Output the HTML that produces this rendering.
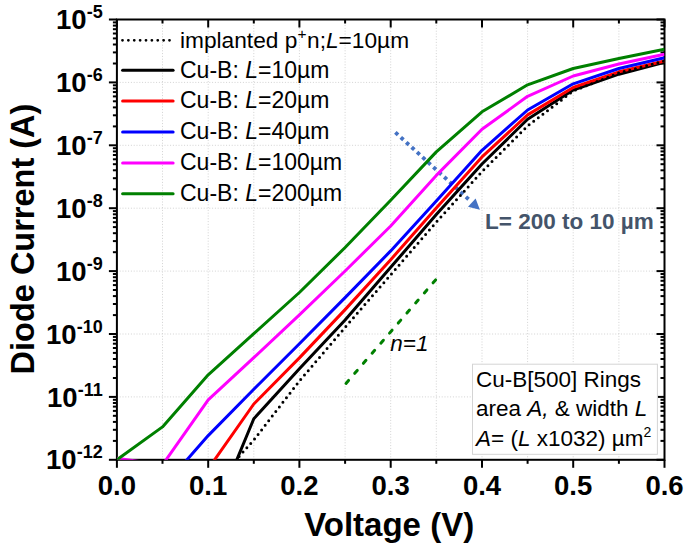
<!DOCTYPE html>
<html><head><meta charset="utf-8"><style>
html,body{margin:0;padding:0;background:#fff;width:685px;height:549px;overflow:hidden}
svg{display:block}
text{font-family:"Liberation Sans", sans-serif}
</style></head><body>
<svg width="685" height="549" viewBox="0 0 685 549">
<defs><clipPath id="pc"><rect x="116.9" y="19.5" width="547.6" height="440.3"/></clipPath></defs>
<rect width="685" height="549" fill="#fff"/>

<g stroke="#d2d2d2" stroke-width="1" stroke-dasharray="1 1.8" fill="none"><line x1="162.5" y1="19.5" x2="162.5" y2="459.8"/><line x1="208.2" y1="19.5" x2="208.2" y2="459.8"/><line x1="253.8" y1="19.5" x2="253.8" y2="459.8"/><line x1="299.4" y1="19.5" x2="299.4" y2="459.8"/><line x1="345.1" y1="19.5" x2="345.1" y2="459.8"/><line x1="390.7" y1="19.5" x2="390.7" y2="459.8"/><line x1="436.3" y1="19.5" x2="436.3" y2="459.8"/><line x1="482.0" y1="19.5" x2="482.0" y2="459.8"/><line x1="527.6" y1="19.5" x2="527.6" y2="459.8"/><line x1="573.2" y1="19.5" x2="573.2" y2="459.8"/><line x1="618.9" y1="19.5" x2="618.9" y2="459.8"/><line x1="116.9" y1="82.4" x2="664.5" y2="82.4"/><line x1="116.9" y1="145.3" x2="664.5" y2="145.3"/><line x1="116.9" y1="208.2" x2="664.5" y2="208.2"/><line x1="116.9" y1="271.1" x2="664.5" y2="271.1"/><line x1="116.9" y1="334.0" x2="664.5" y2="334.0"/><line x1="116.9" y1="396.9" x2="664.5" y2="396.9"/></g>
<line x1="346" y1="383.4" x2="437" y2="278.3" stroke="#008000" stroke-width="3" stroke-dasharray="3.9 9.4" stroke-linecap="round"/>
<text x="390.3" y="351.4" font-size="22.5" font-style="italic">n=1</text>
<line x1="395.37" y1="132.39" x2="468.6" y2="199.3" stroke="#4472c4" stroke-width="3.8" stroke-dasharray="3.6 3.75"/>
<polygon points="479.9,209.8 468.0,206.8 475.6,198.4" fill="#4472c4"/>
<text x="485" y="229.2" font-size="22.5" font-weight="bold" fill="#44546a">L= 200 to 10 µm</text>
<g stroke="#000" stroke-width="2"><rect x="116.9" y="19.5" width="547.6" height="440.3" fill="none"/><line x1="116.9" y1="459.8" x2="116.9" y2="467.8"/><line x1="116.9" y1="19.5" x2="116.9" y2="27.5"/><line x1="162.5" y1="459.8" x2="162.5" y2="463.8"/><line x1="162.5" y1="19.5" x2="162.5" y2="23.5"/><line x1="208.2" y1="459.8" x2="208.2" y2="467.8"/><line x1="208.2" y1="19.5" x2="208.2" y2="27.5"/><line x1="253.8" y1="459.8" x2="253.8" y2="463.8"/><line x1="253.8" y1="19.5" x2="253.8" y2="23.5"/><line x1="299.4" y1="459.8" x2="299.4" y2="467.8"/><line x1="299.4" y1="19.5" x2="299.4" y2="27.5"/><line x1="345.1" y1="459.8" x2="345.1" y2="463.8"/><line x1="345.1" y1="19.5" x2="345.1" y2="23.5"/><line x1="390.7" y1="459.8" x2="390.7" y2="467.8"/><line x1="390.7" y1="19.5" x2="390.7" y2="27.5"/><line x1="436.3" y1="459.8" x2="436.3" y2="463.8"/><line x1="436.3" y1="19.5" x2="436.3" y2="23.5"/><line x1="482.0" y1="459.8" x2="482.0" y2="467.8"/><line x1="482.0" y1="19.5" x2="482.0" y2="27.5"/><line x1="527.6" y1="459.8" x2="527.6" y2="463.8"/><line x1="527.6" y1="19.5" x2="527.6" y2="23.5"/><line x1="573.2" y1="459.8" x2="573.2" y2="467.8"/><line x1="573.2" y1="19.5" x2="573.2" y2="27.5"/><line x1="618.9" y1="459.8" x2="618.9" y2="463.8"/><line x1="618.9" y1="19.5" x2="618.9" y2="23.5"/><line x1="664.5" y1="459.8" x2="664.5" y2="467.8"/><line x1="664.5" y1="19.5" x2="664.5" y2="27.5"/><line x1="116.9" y1="19.5" x2="108.9" y2="19.5"/><line x1="664.5" y1="19.5" x2="656.5" y2="19.5"/><line x1="116.9" y1="63.5" x2="112.9" y2="63.5"/><line x1="664.5" y1="63.5" x2="660.5" y2="63.5"/><line x1="116.9" y1="52.4" x2="112.9" y2="52.4"/><line x1="664.5" y1="52.4" x2="660.5" y2="52.4"/><line x1="116.9" y1="44.5" x2="112.9" y2="44.5"/><line x1="664.5" y1="44.5" x2="660.5" y2="44.5"/><line x1="116.9" y1="38.4" x2="112.9" y2="38.4"/><line x1="664.5" y1="38.4" x2="660.5" y2="38.4"/><line x1="116.9" y1="33.5" x2="112.9" y2="33.5"/><line x1="664.5" y1="33.5" x2="660.5" y2="33.5"/><line x1="116.9" y1="29.2" x2="112.9" y2="29.2"/><line x1="664.5" y1="29.2" x2="660.5" y2="29.2"/><line x1="116.9" y1="25.6" x2="112.9" y2="25.6"/><line x1="664.5" y1="25.6" x2="660.5" y2="25.6"/><line x1="116.9" y1="22.4" x2="112.9" y2="22.4"/><line x1="664.5" y1="22.4" x2="660.5" y2="22.4"/><line x1="116.9" y1="82.4" x2="108.9" y2="82.4"/><line x1="664.5" y1="82.4" x2="656.5" y2="82.4"/><line x1="116.9" y1="126.4" x2="112.9" y2="126.4"/><line x1="664.5" y1="126.4" x2="660.5" y2="126.4"/><line x1="116.9" y1="115.3" x2="112.9" y2="115.3"/><line x1="664.5" y1="115.3" x2="660.5" y2="115.3"/><line x1="116.9" y1="107.4" x2="112.9" y2="107.4"/><line x1="664.5" y1="107.4" x2="660.5" y2="107.4"/><line x1="116.9" y1="101.3" x2="112.9" y2="101.3"/><line x1="664.5" y1="101.3" x2="660.5" y2="101.3"/><line x1="116.9" y1="96.4" x2="112.9" y2="96.4"/><line x1="664.5" y1="96.4" x2="660.5" y2="96.4"/><line x1="116.9" y1="92.1" x2="112.9" y2="92.1"/><line x1="664.5" y1="92.1" x2="660.5" y2="92.1"/><line x1="116.9" y1="88.5" x2="112.9" y2="88.5"/><line x1="664.5" y1="88.5" x2="660.5" y2="88.5"/><line x1="116.9" y1="85.3" x2="112.9" y2="85.3"/><line x1="664.5" y1="85.3" x2="660.5" y2="85.3"/><line x1="116.9" y1="145.3" x2="108.9" y2="145.3"/><line x1="664.5" y1="145.3" x2="656.5" y2="145.3"/><line x1="116.9" y1="189.3" x2="112.9" y2="189.3"/><line x1="664.5" y1="189.3" x2="660.5" y2="189.3"/><line x1="116.9" y1="178.2" x2="112.9" y2="178.2"/><line x1="664.5" y1="178.2" x2="660.5" y2="178.2"/><line x1="116.9" y1="170.3" x2="112.9" y2="170.3"/><line x1="664.5" y1="170.3" x2="660.5" y2="170.3"/><line x1="116.9" y1="164.2" x2="112.9" y2="164.2"/><line x1="664.5" y1="164.2" x2="660.5" y2="164.2"/><line x1="116.9" y1="159.3" x2="112.9" y2="159.3"/><line x1="664.5" y1="159.3" x2="660.5" y2="159.3"/><line x1="116.9" y1="155.0" x2="112.9" y2="155.0"/><line x1="664.5" y1="155.0" x2="660.5" y2="155.0"/><line x1="116.9" y1="151.4" x2="112.9" y2="151.4"/><line x1="664.5" y1="151.4" x2="660.5" y2="151.4"/><line x1="116.9" y1="148.2" x2="112.9" y2="148.2"/><line x1="664.5" y1="148.2" x2="660.5" y2="148.2"/><line x1="116.9" y1="208.2" x2="108.9" y2="208.2"/><line x1="664.5" y1="208.2" x2="656.5" y2="208.2"/><line x1="116.9" y1="252.2" x2="112.9" y2="252.2"/><line x1="664.5" y1="252.2" x2="660.5" y2="252.2"/><line x1="116.9" y1="241.1" x2="112.9" y2="241.1"/><line x1="664.5" y1="241.1" x2="660.5" y2="241.1"/><line x1="116.9" y1="233.2" x2="112.9" y2="233.2"/><line x1="664.5" y1="233.2" x2="660.5" y2="233.2"/><line x1="116.9" y1="227.1" x2="112.9" y2="227.1"/><line x1="664.5" y1="227.1" x2="660.5" y2="227.1"/><line x1="116.9" y1="222.2" x2="112.9" y2="222.2"/><line x1="664.5" y1="222.2" x2="660.5" y2="222.2"/><line x1="116.9" y1="217.9" x2="112.9" y2="217.9"/><line x1="664.5" y1="217.9" x2="660.5" y2="217.9"/><line x1="116.9" y1="214.3" x2="112.9" y2="214.3"/><line x1="664.5" y1="214.3" x2="660.5" y2="214.3"/><line x1="116.9" y1="211.1" x2="112.9" y2="211.1"/><line x1="664.5" y1="211.1" x2="660.5" y2="211.1"/><line x1="116.9" y1="271.1" x2="108.9" y2="271.1"/><line x1="664.5" y1="271.1" x2="656.5" y2="271.1"/><line x1="116.9" y1="315.1" x2="112.9" y2="315.1"/><line x1="664.5" y1="315.1" x2="660.5" y2="315.1"/><line x1="116.9" y1="304.0" x2="112.9" y2="304.0"/><line x1="664.5" y1="304.0" x2="660.5" y2="304.0"/><line x1="116.9" y1="296.1" x2="112.9" y2="296.1"/><line x1="664.5" y1="296.1" x2="660.5" y2="296.1"/><line x1="116.9" y1="290.0" x2="112.9" y2="290.0"/><line x1="664.5" y1="290.0" x2="660.5" y2="290.0"/><line x1="116.9" y1="285.1" x2="112.9" y2="285.1"/><line x1="664.5" y1="285.1" x2="660.5" y2="285.1"/><line x1="116.9" y1="280.8" x2="112.9" y2="280.8"/><line x1="664.5" y1="280.8" x2="660.5" y2="280.8"/><line x1="116.9" y1="277.2" x2="112.9" y2="277.2"/><line x1="664.5" y1="277.2" x2="660.5" y2="277.2"/><line x1="116.9" y1="274.0" x2="112.9" y2="274.0"/><line x1="664.5" y1="274.0" x2="660.5" y2="274.0"/><line x1="116.9" y1="334.0" x2="108.9" y2="334.0"/><line x1="664.5" y1="334.0" x2="656.5" y2="334.0"/><line x1="116.9" y1="378.0" x2="112.9" y2="378.0"/><line x1="664.5" y1="378.0" x2="660.5" y2="378.0"/><line x1="116.9" y1="366.9" x2="112.9" y2="366.9"/><line x1="664.5" y1="366.9" x2="660.5" y2="366.9"/><line x1="116.9" y1="359.0" x2="112.9" y2="359.0"/><line x1="664.5" y1="359.0" x2="660.5" y2="359.0"/><line x1="116.9" y1="352.9" x2="112.9" y2="352.9"/><line x1="664.5" y1="352.9" x2="660.5" y2="352.9"/><line x1="116.9" y1="348.0" x2="112.9" y2="348.0"/><line x1="664.5" y1="348.0" x2="660.5" y2="348.0"/><line x1="116.9" y1="343.7" x2="112.9" y2="343.7"/><line x1="664.5" y1="343.7" x2="660.5" y2="343.7"/><line x1="116.9" y1="340.1" x2="112.9" y2="340.1"/><line x1="664.5" y1="340.1" x2="660.5" y2="340.1"/><line x1="116.9" y1="336.9" x2="112.9" y2="336.9"/><line x1="664.5" y1="336.9" x2="660.5" y2="336.9"/><line x1="116.9" y1="396.9" x2="108.9" y2="396.9"/><line x1="664.5" y1="396.9" x2="656.5" y2="396.9"/><line x1="116.9" y1="440.9" x2="112.9" y2="440.9"/><line x1="664.5" y1="440.9" x2="660.5" y2="440.9"/><line x1="116.9" y1="429.8" x2="112.9" y2="429.8"/><line x1="664.5" y1="429.8" x2="660.5" y2="429.8"/><line x1="116.9" y1="421.9" x2="112.9" y2="421.9"/><line x1="664.5" y1="421.9" x2="660.5" y2="421.9"/><line x1="116.9" y1="415.8" x2="112.9" y2="415.8"/><line x1="664.5" y1="415.8" x2="660.5" y2="415.8"/><line x1="116.9" y1="410.9" x2="112.9" y2="410.9"/><line x1="664.5" y1="410.9" x2="660.5" y2="410.9"/><line x1="116.9" y1="406.6" x2="112.9" y2="406.6"/><line x1="664.5" y1="406.6" x2="660.5" y2="406.6"/><line x1="116.9" y1="403.0" x2="112.9" y2="403.0"/><line x1="664.5" y1="403.0" x2="660.5" y2="403.0"/><line x1="116.9" y1="399.8" x2="112.9" y2="399.8"/><line x1="664.5" y1="399.8" x2="660.5" y2="399.8"/><line x1="116.9" y1="459.8" x2="108.9" y2="459.8"/><line x1="664.5" y1="459.8" x2="656.5" y2="459.8"/></g>
<g clip-path="url(#pc)" fill="none" stroke-width="3" stroke-linejoin="round">
<polyline stroke="#000" points="208.2,528.7 253.8,418.8 299.4,368.8 345.1,320.0 390.7,267.3 436.3,214.6 482.0,164.0 527.6,119.3 573.2,90.0 618.9,74.2 664.5,62.3"/>
<polyline stroke="#ff0000" points="208.2,468.9 253.8,404.0 299.4,357.9 345.1,309.6 390.7,259.7 436.3,208.0 482.0,156.9 527.6,114.9 573.2,87.5 618.9,71.8 664.5,61.0"/>
<polyline stroke="#0000ff" points="162.5,487.7 208.2,435.6 253.8,389.3 299.4,343.7 345.1,297.6 390.7,250.9 436.3,200.9 482.0,150.3 527.6,110.0 573.2,83.8 618.9,68.5 664.5,57.8"/>
<polyline stroke="#ff00ff" points="116.9,458.3 162.5,464.9 208.2,399.9 253.8,357.7 299.4,314.9 345.1,271.0 390.7,226.0 436.3,175.4 482.0,129.3 527.6,96.3 573.2,76.0 618.9,64.0 664.5,54.2"/>
<polyline stroke="#008000" points="116.9,459.8 162.5,426.9 208.2,374.8 253.8,333.7 299.4,292.5 345.1,247.5 390.7,200.3 436.3,151.9 482.0,111.8 527.6,84.8 573.2,68.5 618.9,58.5 664.5,49.3"/>
<polyline stroke="#000" stroke-dasharray="0 5.8" stroke-linecap="round" points="208.2,491.0 253.8,440.0 299.4,381.0 345.1,327.4 390.7,274.8 436.3,222.1 482.0,171.6 527.6,126.0 573.2,91.0 618.9,73.0 664.5,61.0"/>
</g>
<text x="102.7" y="29.1" font-size="27.5" font-weight="bold" text-anchor="end">10<tspan font-size="18" dy="-11">-5</tspan></text>
<text x="102.7" y="92.0" font-size="27.5" font-weight="bold" text-anchor="end">10<tspan font-size="18" dy="-11">-6</tspan></text>
<text x="102.7" y="154.9" font-size="27.5" font-weight="bold" text-anchor="end">10<tspan font-size="18" dy="-11">-7</tspan></text>
<text x="102.7" y="217.8" font-size="27.5" font-weight="bold" text-anchor="end">10<tspan font-size="18" dy="-11">-8</tspan></text>
<text x="102.7" y="280.7" font-size="27.5" font-weight="bold" text-anchor="end">10<tspan font-size="18" dy="-11">-9</tspan></text>
<text x="102.7" y="343.6" font-size="27.5" font-weight="bold" text-anchor="end">10<tspan font-size="18" dy="-11">-10</tspan></text>
<text x="102.7" y="406.5" font-size="27.5" font-weight="bold" text-anchor="end">10<tspan font-size="18" dy="-11">-11</tspan></text>
<text x="102.7" y="469.4" font-size="27.5" font-weight="bold" text-anchor="end">10<tspan font-size="18" dy="-11">-12</tspan></text>
<text x="116.9" y="495.3" font-size="27.5" font-weight="bold" text-anchor="middle">0.0</text>
<text x="208.2" y="495.3" font-size="27.5" font-weight="bold" text-anchor="middle">0.1</text>
<text x="299.4" y="495.3" font-size="27.5" font-weight="bold" text-anchor="middle">0.2</text>
<text x="390.7" y="495.3" font-size="27.5" font-weight="bold" text-anchor="middle">0.3</text>
<text x="482.0" y="495.3" font-size="27.5" font-weight="bold" text-anchor="middle">0.4</text>
<text x="573.2" y="495.3" font-size="27.5" font-weight="bold" text-anchor="middle">0.5</text>
<text x="664.5" y="495.3" font-size="27.5" font-weight="bold" text-anchor="middle">0.6</text>
<text x="389.2" y="535.5" font-size="33" font-weight="bold" text-anchor="middle">Voltage (V)</text>
<text transform="translate(34.3,239) rotate(-90)" font-size="32.5" font-weight="bold" text-anchor="middle">Diode Current (A)</text>
<line x1="122.5" y1="40.3" x2="169.6" y2="40.3" stroke="#000" stroke-width="2.8" stroke-dasharray="0 5.875" stroke-linecap="round"/>
<text x="180" y="47.6" font-size="22.7">implanted p<tspan font-size="15.5" dx="0.3" dy="-9">+</tspan><tspan dx="0.4" dy="9">n;</tspan><tspan font-style="italic">L</tspan>=10µm</text>
<line x1="122.6" y1="70.3" x2="173.1" y2="70.3" stroke="#000" stroke-width="3" stroke-linecap="round"/>
<text x="180" y="77.6" font-size="23">Cu-B: <tspan font-style="italic">L</tspan>=10µm</text>
<line x1="122.6" y1="100.9" x2="173.1" y2="100.9" stroke="#ff0000" stroke-width="3" stroke-linecap="round"/>
<text x="180" y="108.2" font-size="23">Cu-B: <tspan font-style="italic">L</tspan>=20µm</text>
<line x1="122.6" y1="131.9" x2="173.1" y2="131.9" stroke="#0000ff" stroke-width="3" stroke-linecap="round"/>
<text x="180" y="139.2" font-size="23">Cu-B: <tspan font-style="italic">L</tspan>=40µm</text>
<line x1="122.6" y1="163.0" x2="173.1" y2="163.0" stroke="#ff00ff" stroke-width="3" stroke-linecap="round"/>
<text x="180" y="170.3" font-size="23">Cu-B: <tspan font-style="italic">L</tspan>=100µm</text>
<line x1="122.6" y1="193.7" x2="173.1" y2="193.7" stroke="#008000" stroke-width="3" stroke-linecap="round"/>
<text x="180" y="201.0" font-size="23">Cu-B: <tspan font-style="italic">L</tspan>=200µm</text>
<rect x="472.5" y="364.2" width="184.9" height="90.1" fill="#fff" stroke="#d4d4d4" stroke-width="1"/>
<text x="476" y="387.2" font-size="22.5">Cu-B[500] Rings</text>
<text x="476" y="416" font-size="22.5">area <tspan font-style="italic">A,</tspan> &amp; width <tspan font-style="italic">L</tspan></text>
<text x="476" y="446.4" font-size="22.5"><tspan font-style="italic">A</tspan>= (<tspan font-style="italic">L</tspan> x1032) µm<tspan font-size="14" dy="-9">2</tspan></text>
</svg></body></html>
